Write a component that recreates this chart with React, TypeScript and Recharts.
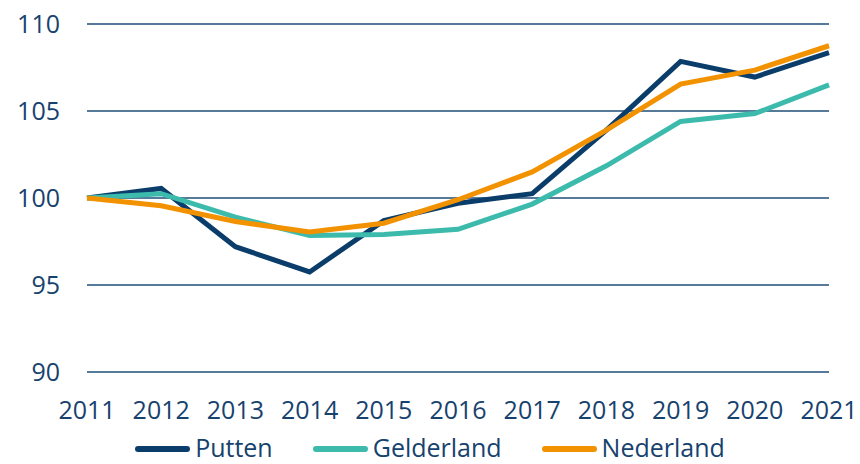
import { LineChart, Line, XAxis, YAxis, CartesianGrid, Legend } from 'recharts';

const years = ['2011', '2012', '2013', '2014', '2015', '2016', '2017', '2018', '2019', '2020', '2021'];
const putten = [100, 100.55, 97.2, 95.75, 98.7, 99.7, 100.25, 103.9, 107.85, 106.95, 108.35];
const gelderland = [100, 100.25, 98.9, 97.85, 97.9, 98.2, 99.65, 101.85, 104.4, 104.85, 106.5];
const nederland = [100, 99.55, 98.65, 98.05, 98.55, 99.9, 101.5, 103.9, 106.55, 107.35, 108.75];
const yTicks = [90, 95, 100, 105, 110];

const series = [
  { key: 'putten', name: 'Putten', color: '#0b3d6b' },
  { key: 'gelderland', name: 'Gelderland', color: '#3cbbad' },
  { key: 'nederland', name: 'Nederland', color: '#f39200' },
];

const data = years.map((year, i) => ({
  year,
  putten: putten[i],
  gelderland: gelderland[i],
  nederland: nederland[i],
}));

const textColor = '#17426e';
const font = '"Open Sans", "Noto Sans", sans-serif';

function LegendContent() {
  return (
    <div style={{ display: 'flex', justifyContent: 'center', alignItems: 'center', height: 22, gap: 40 }}>
      {series.map((s) => (
        <div key={s.key} style={{ display: 'flex', alignItems: 'center' }}>
          <span
            style={{
              display: 'inline-block',
              width: 55,
              height: 6,
              borderRadius: 3,
              background: s.color,
              marginRight: 5,
              transform: 'translateY(2px)',
            }}
          />
          <span style={{ fontSize: 25, lineHeight: '22px', color: textColor, fontFamily: font }}>{s.name}</span>
        </div>
      ))}
    </div>
  );
}

export default function App() {
  return (
    <div style={{ position: 'absolute', left: 0, top: 0, width: 860, height: 464, background: '#fff', fontFamily: font }}>
      <LineChart width={860} height={464} data={data} margin={{ top: 24, right: 31, left: 0, bottom: 40 }}>
        <CartesianGrid vertical={false} stroke="#1f4e79" strokeWidth={1.5} />
        <XAxis
          dataKey="year"
          interval={0}
          axisLine={false}
          tickLine={false}
          tickMargin={23}
          height={30}
          tick={{ fontSize: 25, fill: textColor, fontFamily: font }}
        />
        <YAxis
          domain={[90, 110]}
          ticks={yTicks}
          width={87}
          axisLine={false}
          tickLine={false}
          tickMargin={21}
          tick={{ fontSize: 25, fill: textColor, fontFamily: font }}
        />
        <Legend verticalAlign="bottom" content={<LegendContent />} wrapperStyle={{ top: 436, left: 0, width: 860 }} />
        {series.map((s) => (
          <Line
            key={s.key}
            type="linear"
            dataKey={s.key}
            name={s.name}
            stroke={s.color}
            strokeWidth={5}
            dot={false}
            isAnimationActive={false}
          />
        ))}
      </LineChart>
    </div>
  );
}
